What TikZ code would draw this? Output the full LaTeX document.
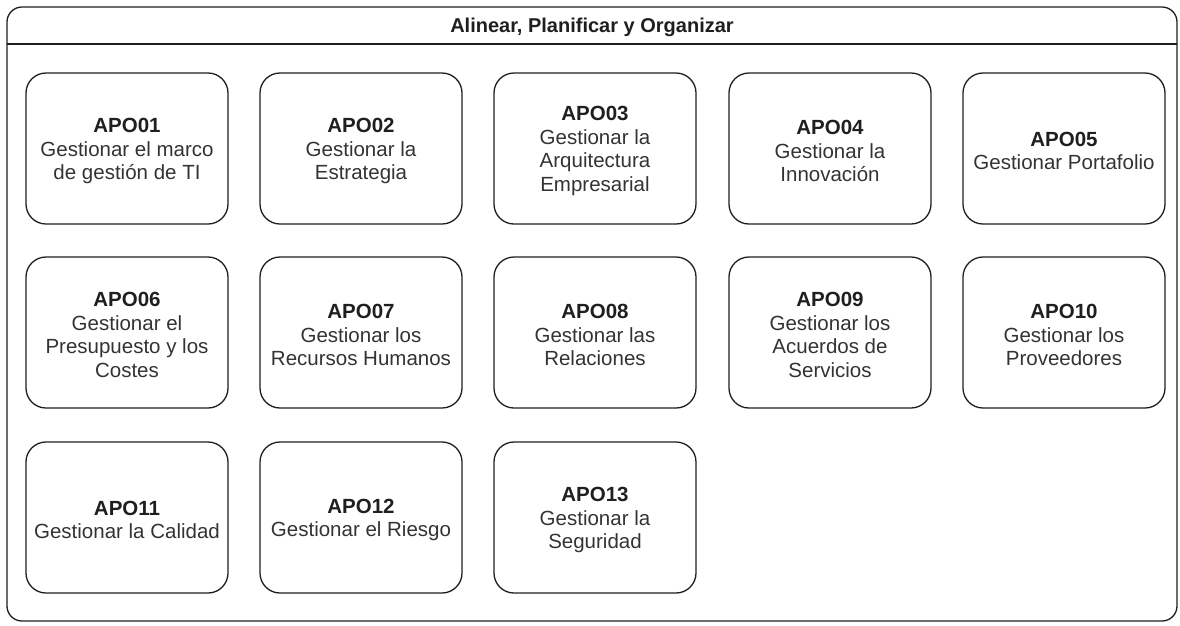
\documentclass[tikz,border=0pt]{standalone}
\usepackage{fontspec}
\setmainfont{Liberation Sans}
\definecolor{ink}{HTML}{1F1F1F}
\definecolor{txt}{HTML}{333333}
\begin{document}
\begin{tikzpicture}[x=1pt,y=-1pt,
  frame/.style={draw=ink,line width=1.3pt,rounded corners=15pt},
  apo/.style={draw=ink,line width=1.3pt,rounded corners=20pt,
    minimum width=202pt,minimum height=151pt,inner sep=0pt,
    align=center,text=txt,
    font=\fontsize{20.5pt}{23.6pt}\selectfont},
  title/.style={font=\fontsize{20pt}{24pt}\selectfont\bfseries,text=ink},
  lbl/.style={inner sep=0pt,align=center,text=txt,
    font=\fontsize{20.5pt}{23.6pt}\selectfont}]
  \useasboundingbox (0,0) rectangle (1180,625);
  % outer swimlane
  \draw[frame] (7,7) rectangle (1177,621);
  \coordinate (sepL) at (7,44);
  \coordinate (sepR) at (1177,44);
  \draw[draw=ink,line width=1.3pt] (sepL) -- (sepR);
  \node[title] (ttl) at (592,27) {Alinear, Planificar y Organizar};
  % process boxes: frame first, label set slightly lower inside it
  \foreach \nm/\cx/\cy/\body in {
    apo01/127/148.5/{\textbf{\color{ink}APO01}\\Gestionar el marco\\de gestión de TI},
    apo02/361/148.5/{\textbf{\color{ink}APO02}\\Gestionar la\\Estrategia},
    apo03/595/148.5/{\textbf{\color{ink}APO03}\\Gestionar la\\Arquitectura\\Empresarial},
    apo04/830/148.5/{\textbf{\color{ink}APO04}\\Gestionar la\\Innovación},
    apo05/1064/148.5/{\textbf{\color{ink}APO05}\\Gestionar Portafolio},
    apo06/127/332.5/{\textbf{\color{ink}APO06}\\Gestionar el\\Presupuesto y los\\Costes},
    apo07/361/332.5/{\textbf{\color{ink}APO07}\\Gestionar los\\Recursos Humanos},
    apo08/595/332.5/{\textbf{\color{ink}APO08}\\Gestionar las\\Relaciones},
    apo09/830/332.5/{\textbf{\color{ink}APO09}\\Gestionar los\\Acuerdos de\\Servicios},
    apo10/1064/332.5/{\textbf{\color{ink}APO10}\\Gestionar los\\Proveedores},
    apo11/127/517.5/{\textbf{\color{ink}APO11}\\Gestionar la Calidad},
    apo12/361/517.5/{\textbf{\color{ink}APO12}\\Gestionar el Riesgo},
    apo13/595/517.5/{\textbf{\color{ink}APO13}\\Gestionar la\\Seguridad}}
  {
    \node[apo] (\nm) at (\cx,\cy) {};
    \node[lbl] (\nm-t) at ([yshift=-2.5pt]\nm.center) {\body};
  }
\end{tikzpicture}
\end{document}
